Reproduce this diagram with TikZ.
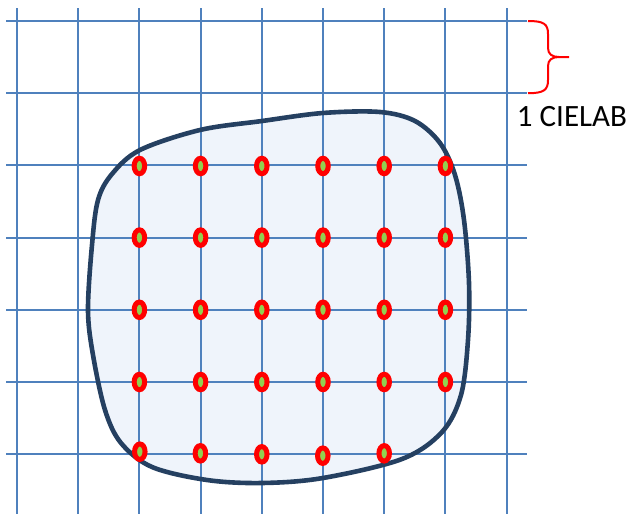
\documentclass[tikz,border=0pt]{standalone}
\usepackage{fontspec}
\setmainfont{Carlito}
\usetikzlibrary{shapes.geometric}
\definecolor{gridblue}{RGB}{79,129,189}
\definecolor{navy}{RGB}{37,64,97}
\definecolor{blobfill}{RGB}{239,244,251}
\definecolor{dotgreen}{RGB}{146,208,80}
\definecolor{bracered}{RGB}{255,0,0}
\tikzset{
  gridline/.style={draw=gridblue, line width=2pt},
  blob/.style={draw=navy, line width=4.6pt},
  samplept/.style={ellipse, draw=bracered, fill=dotgreen, line width=5pt, minimum width=10.5pt, minimum height=15.5pt, inner sep=0pt},
  bracestyle/.style={draw=bracered, line width=2pt},
  label/.style={font=\fontsize{31}{36}\selectfont, text=black, inner sep=0pt}
}
\begin{document}
\begin{tikzpicture}[x=1pt, y=-1pt]
\useasboundingbox (0,0) rectangle (629,514);
% blob fill
\def\blobpath{plot[smooth cycle, tension=0.55] coordinates {(140,150) (200,130) (262,121) (323,113) (380,112) (415,121) (440,143) (455,175) (464,220) (469,283) (468,340) (461,395) (442,432) (402,459) (323,478) (262,483) (207,480) (152,467) (121,443) (105,410) (93,355) (88,310) (92,245) (98,200) (112,174)}}
\fill[blobfill] \blobpath;
% grid
\foreach \x in {17,78.2,139.4,200.6,261.8,323,384.2,445.4,506.6}
  \draw[gridline] (\x,8) -- (\x,514);
\foreach \y in {21,93.2,165.4,237.6,309.8,382,454.2}
  \draw[gridline] (6,\y) -- (527,\y);
% outline
\draw[blob] \blobpath;
% sample points
\foreach \c/\x in {1/139.4,2/200.6,3/261.8,4/323,5/384.2,6/445.4}{
  \node[samplept] (r1c\c) at (\x,166) {};
  \node[samplept] (r2c\c) at (\x,237.6) {};
  \node[samplept] (r3c\c) at (\x,309.8) {};
  \node[samplept] (r4c\c) at (\x,382) {};
}
\node[samplept] (r5c1) at (139.8,451.7) {};
\node[samplept] (r5c2) at (200.4,453.3) {};
\node[samplept] (r5c3) at (261.8,454.3) {};
\node[samplept] (r5c4) at (322.8,455.7) {};
\node[samplept] (r5c5) at (384.2,453.3) {};
% brace
\coordinate (btop) at (528,21);
\coordinate (bbot) at (528,93.2);
\coordinate (btip) at (569,57);
\draw[bracestyle] (btop) .. controls (544,21) and (548,24) .. (548,34) -- (548,48) .. controls (548,54) and (552,57) .. (559,57) -- (btip);
\draw[bracestyle] (bbot) .. controls (544,93.2) and (548,90) .. (548,80) -- (548,66) .. controls (548,60) and (552,57) .. (559,57);
% label
\node[label] (unit) at (572,117) {1 CIELAB};
\end{tikzpicture}
\end{document}
